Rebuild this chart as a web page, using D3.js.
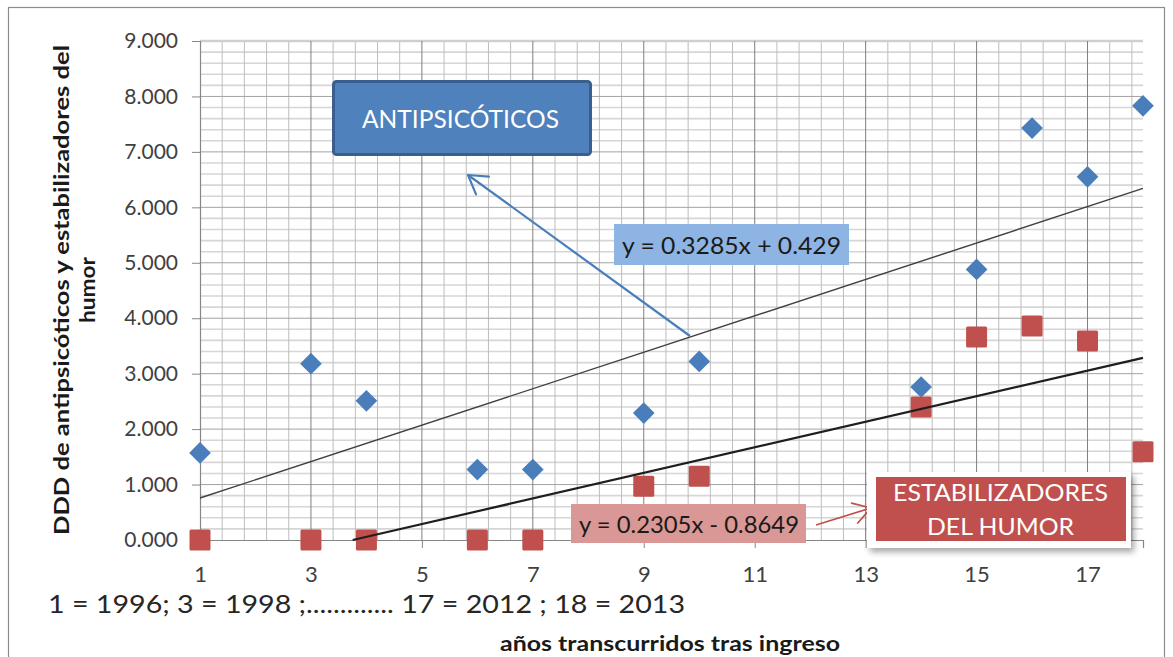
<!DOCTYPE html>
<html lang="es">
<head>
<meta charset="utf-8">
<script src="https://cdn.jsdelivr.net/npm/d3@7"></script>
<style>
  html, body { margin: 0; padding: 0; background: #fff; }
  svg { display: block; }
  text { font-family: "Lato", "Open Sans", sans-serif; }
</style>
</head>
<body>
<svg id="chart" width="1173" height="657"></svg>
<script>
// Years since admission (1 = 1996 ... 18 = 2013)
const years = [1, 3, 4, 6, 7, 9, 10, 14, 15, 16, 17, 18];
// DDD, antipsychotics
const antipsicoticos = [1.57, 3.18, 2.51, 1.27, 1.27, 2.29, 3.22, 2.76, 4.88, 7.43, 6.55, 7.83];
// DDD, mood stabilisers
const estabilizadores = [0, 0, 0, 0, 0, 0.97, 1.15, 2.40, 3.66, 3.86, 3.59, 1.59];
// Linear trendlines: [antipsicóticos, estabilizadores]
const trendSlopes = [0.3285, 0.2305];
const trendIntercepts = [0.429, -0.8649];
const seriesNames = ["ANTIPSICÓTICOS", ["ESTABILIZADORES", "DEL HUMOR"]];
const xTickValues = [1, 3, 5, 7, 9, 11, 13, 15, 17];
const yTickValues = [0, 1, 2, 3, 4, 5, 6, 7, 8, 9];
const yTitle = ["DDD de antipsicóticos y estabilizadores del", "humor"];
const xTitle = "años transcurridos tras ingreso";
const yearNote = "1 = 1996; 3 = 1998 ;.............  17 = 2012 ; 18 = 2013";

const svg = d3.select("#chart");
const x = d3.scaleLinear().domain([1, 18]).range([200, 1143]);
const y = d3.scaleLinear().domain([0, 9]).range([540, 41]);

const defs = svg.append("defs");
defs.append("filter").attr("id", "shadow").attr("x", "-10%").attr("y", "-20%")
  .attr("width", "130%").attr("height", "150%")
  .append("feDropShadow").attr("dx", 3).attr("dy", 4).attr("stdDeviation", 3)
  .attr("flood-color", "#000").attr("flood-opacity", 0.35);

// outer chart frame
svg.append("rect").attr("x", 8.5).attr("y", 7.5).attr("width", 1156).attr("height", 700)
  .attr("fill", "none").attr("stroke", "#8c8c8c").attr("stroke-width", 1.2);

// grid
const grid = svg.append("g");
const [x0, x1] = x.range();
grid.selectAll("line.hminor").data(d3.range(0, 9.001, 0.2).filter(v => Math.abs(v - Math.round(v)) > 1e-6))
  .join("line").attr("x1", x0).attr("x2", x1).attr("y1", d => y(d)).attr("y2", d => y(d))
  .attr("stroke", "#d6d6d6").attr("stroke-width", 1.6);
grid.selectAll("line.vminor").data(d3.range(1, 18, 0.4).filter(v => Math.abs((v - 1) / 2 - Math.round((v - 1) / 2)) > 1e-6))
  .join("line").attr("x1", d => x(d)).attr("x2", d => x(d)).attr("y1", y(0)).attr("y2", y(9))
  .attr("stroke", "#bdbdbd").attr("stroke-width", 1);
grid.selectAll("line.hmajor").data(yTickValues.slice(1))
  .join("line").attr("x1", x0).attr("x2", x1).attr("y1", d => y(d)).attr("y2", d => y(d))
  .attr("stroke", d => d === 9 ? "#cfcfcf" : "#a3a3a3").attr("stroke-width", d => d === 9 ? 2.5 : 1);
grid.selectAll("line.vmajor").data(xTickValues.slice(1))
  .join("line").attr("x1", d => x(d)).attr("x2", d => x(d)).attr("y1", y(0)).attr("y2", y(9))
  .attr("stroke", "#7f7f7f").attr("stroke-width", 1);

// axes
const yAxis = svg.append("g").attr("transform", `translate(${x0},0)`)
  .call(d3.axisLeft(y).tickValues(yTickValues).tickFormat(d3.format(".3f")).tickSize(8).tickPadding(14));
const xAxis = svg.append("g").attr("transform", `translate(0,${y(0)})`)
  .call(d3.axisBottom(x).tickValues(xTickValues).tickFormat(d3.format("d")).tickSize(8).tickPadding(18));
[yAxis, xAxis].forEach(a => {
  a.select(".domain").attr("stroke", "#868686").attr("stroke-width", 1.2);
  a.selectAll(".tick line").attr("stroke", "#868686");
  a.selectAll(".tick text").attr("fill", "#404040").style("font-family", "Lato, 'Open Sans', sans-serif");
});
yAxis.selectAll(".tick text").attr("font-size", 21);
xAxis.selectAll(".tick text").attr("font-size", 22);

// markers
const pts = years.map((yr, i) => ({ yr, a: antipsicoticos[i], e: estabilizadores[i] }));
svg.append("g").selectAll("path").data(pts).join("path")
  .attr("d", d3.symbol().type(d3.symbolDiamond2).size(300))
  .attr("transform", d => `translate(${x(d.yr)},${y(d.a)})`)
  .attr("fill", "#4a7ebb");
svg.append("g").selectAll("rect").data(pts).join("rect")
  .attr("x", d => x(d.yr) - 10.5).attr("y", d => y(d.e) - 10.5)
  .attr("width", 21).attr("height", 21).attr("rx", 1.5)
  .attr("fill", "#c0504d");

// trendlines (clipped at the y = 0 axis)
const trends = trendSlopes.map((m, i) => {
  const b = trendIntercepts[i];
  const xs = Math.max(1, -b / m);
  return { m, b, xs, xe: 18 };
});
svg.append("g").selectAll("line").data(trends).join("line")
  .attr("x1", d => x(d.xs)).attr("y1", d => y(d.m * d.xs + d.b))
  .attr("x2", d => x(d.xe)).attr("y2", d => y(d.m * d.xe + d.b))
  .attr("stroke", (d, i) => i === 0 ? "#3f3f3f" : "#1e1e1e")
  .attr("stroke-width", (d, i) => i === 0 ? 1.4 : 2.2);

const eqText = d => `y = ${d.m}x ${d.b < 0 ? "-" : "+"} ${Math.abs(d.b)}`;

// open-headed arrow helper
function arrow(g, sx, sy, tx, ty, color, width, head) {
  g.append("line").attr("x1", sx).attr("y1", sy).attr("x2", tx).attr("y2", ty)
    .attr("stroke", color).attr("stroke-width", width);
  const ang = Math.atan2(sy - ty, sx - tx);
  [-0.55, 0.55].forEach(da => {
    g.append("line").attr("x1", tx).attr("y1", ty)
      .attr("x2", tx + head * Math.cos(ang + da)).attr("y2", ty + head * Math.sin(ang + da))
      .attr("stroke", color).attr("stroke-width", width).attr("stroke-linecap", "round");
  });
}
const ann = svg.append("g");

// antipsicóticos callout
arrow(ann, 690, 336, 468, 175, "#4a7ebb", 2.2, 21);
ann.append("rect").attr("x", 333.5).attr("y", 81.5).attr("width", 257).attr("height", 73).attr("rx", 3)
  .attr("fill", "#4f81bd").attr("stroke", "#3a5f8e").attr("stroke-width", 3);
ann.append("text").attr("x", 362).attr("y", 119).attr("dy", "0.36em")
  .attr("font-size", 25).attr("fill", "#fff").attr("textLength", 197).attr("lengthAdjust", "spacingAndGlyphs")
  .text(seriesNames[0]);

// antipsicóticos equation
ann.append("rect").attr("x", 614).attr("y", 224).attr("width", 235).attr("height", 41).attr("fill", "#8eb4e3");
ann.append("text").attr("x", 622).attr("y", 246).attr("dy", "0.36em")
  .attr("font-size", 23).attr("fill", "#1a1a1a").attr("textLength", 219).attr("lengthAdjust", "spacingAndGlyphs")
  .text(eqText(trends[0]));

// estabilizadores equation
ann.append("rect").attr("x", 571).attr("y", 504).attr("width", 235).attr("height", 39).attr("fill", "#d99795");
ann.append("text").attr("x", 579).attr("y", 525).attr("dy", "0.36em")
  .attr("font-size", 23).attr("fill", "#1a1a1a").attr("textLength", 220).attr("lengthAdjust", "spacingAndGlyphs")
  .text(eqText(trends[1]));

// estabilizadores callout
arrow(ann, 816, 525, 871, 508, "#c0504d", 1.8, 20);
ann.append("rect").attr("x", 867).attr("y", 472).attr("width", 264).attr("height", 76)
  .attr("fill", "#fff").attr("filter", "url(#shadow)");
ann.append("rect").attr("x", 876).attr("y", 477).attr("width", 250).attr("height", 64).attr("fill", "#c0504d");
ann.append("text").attr("x", 893).attr("y", 493).attr("dy", "0.36em")
  .attr("font-size", 23).attr("fill", "#fff").attr("textLength", 215).attr("lengthAdjust", "spacingAndGlyphs")
  .text(seriesNames[1][0]);
ann.append("text").attr("x", 927).attr("y", 527).attr("dy", "0.36em")
  .attr("font-size", 23).attr("fill", "#fff").attr("textLength", 147).attr("lengthAdjust", "spacingAndGlyphs")
  .text(seriesNames[1][1]);

// axis titles and year note
svg.append("text").attr("x", 48).attr("y", 604).attr("dy", "0.36em")
  .attr("font-size", 25).attr("fill", "#262626").attr("textLength", 637).attr("lengthAdjust", "spacingAndGlyphs")
  .text(yearNote);
svg.append("text").attr("x", 670).attr("y", 644).attr("dy", "0.36em").attr("text-anchor", "middle")
  .attr("font-size", 20).attr("font-weight", "bold").attr("fill", "#1a1a1a")
  .attr("textLength", 340).attr("lengthAdjust", "spacingAndGlyphs")
  .text(xTitle);
const yt = svg.append("g").attr("transform", "translate(0,290) rotate(-90)");
yTitle.forEach((t, i) => {
  yt.append("text").attr("x", 0).attr("y", 62 + i * 26).attr("dy", "0.36em").attr("text-anchor", "middle")
    .attr("font-size", 20).attr("font-weight", "bold").attr("fill", "#1a1a1a")
    .attr("textLength", i === 0 ? 490 : 66).attr("lengthAdjust", "spacingAndGlyphs")
    .text(t);
});
</script>
</body>
</html>
